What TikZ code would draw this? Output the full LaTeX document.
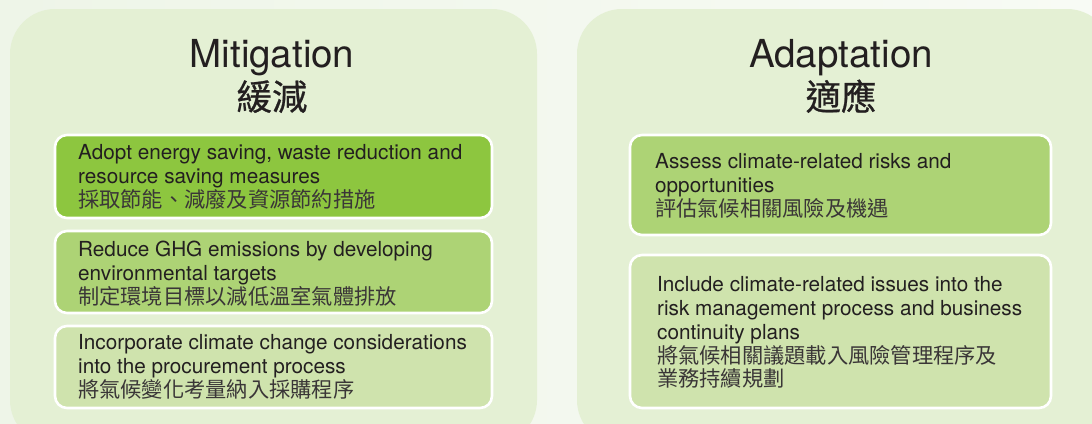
\documentclass[tikz,border=0pt]{standalone}
\usepackage{fontspec}
\setmainfont{TeX Gyre Heros}
\newfontfamily\cjk[Scale=1.025]{Noto Sans CJK TC}
\newfontfamily\cjktitle[FakeBold=0.7]{Noto Sans CJK TC}
\definecolor{bgL}{HTML}{EEF5E8}
\definecolor{bgR}{HTML}{F8FBF5}
\definecolor{panel}{HTML}{E4F0D4}
\definecolor{boxA}{HTML}{8DC63F}
\definecolor{boxB}{HTML}{ADD375}
\definecolor{boxC}{HTML}{CFE3AD}
\definecolor{ink}{HTML}{231F20}
\definecolor{cjkink}{HTML}{3A3637}
\tikzset{
  panelbox/.style={fill=panel, rounded corners=45bp},
  itembox/.style={draw=white, line width=2.6bp, rounded corners=12bp},
  titletext/.style={text=ink, inner sep=0, font=\fontsize{38.7}{44}\selectfont},
  titlecjk/.style={text=ink, inner sep=0, font=\fontsize{35.5}{40}\selectfont\cjktitle},
  itemtext/.style={text=ink, inner sep=0, anchor=north west, align=left, font=\fontsize{20.8}{24}\selectfont},
}
\newcommand{\zh}[1]{{\cjk\color{cjkink}#1}}
\begin{document}
\begin{tikzpicture}[x=1bp,y=-1bp]
\useasboundingbox (0,0) rectangle (1092,423);
\clip (0,0) rectangle (1092,423);
\shade[left color=bgL, right color=bgR] (0,0) rectangle (1092,423);
% panels
\fill[panelbox] (10,9) rectangle (537,445);
\fill[panelbox] (577,9) rectangle (1112,445);
% titles
\node[titletext, anchor=base] (mt) at (272,67) {Mitigation};
\node[titlecjk, anchor=base] (mc) at (272,110) {緩減};
\node[titletext, anchor=base] (at) at (841,67) {Adaptation};
\node[titlecjk, anchor=base] (ac) at (841,110) {適應};
% left boxes
\path[itembox, fill=boxA] (55,135) rectangle (492,218);
\path[itembox, fill=boxB] (55,231) rectangle (492,313);
\path[itembox, fill=boxC] (55,326) rectangle (492,408);
% right boxes
\path[itembox, fill=boxB] (630,135) rectangle (1051,235);
\path[itembox, fill=boxC] (630,255) rectangle (1051,408);
% texts
\node[itemtext] (t1) at (78,144) {Adopt energy saving, waste reduction and\\resource saving measures\\\zh{採取節能、減廢及資源節約措施}};
\node[itemtext] (t2) at (78,241) {Reduce GHG emissions by developing\\environmental targets\\\zh{制定環境目標以減低溫室氣體排放}};
\node[itemtext] (t3) at (78,334) {Incorporate climate change considerations\\into the procurement process\\\zh{將氣候變化考量納入採購程序}};
\node[itemtext] (t4) at (655,153) {Assess climate-related risks and\\opportunities\\\zh{評估氣候相關風險及機遇}};
\node[itemtext] (t5) at (657,276) {Include climate-related issues into the\\risk management process and business\\continuity plans\\\zh{將氣候相關議題載入風險管理程序及}\\\zh{業務持續規劃}};
\end{tikzpicture}
\end{document}
